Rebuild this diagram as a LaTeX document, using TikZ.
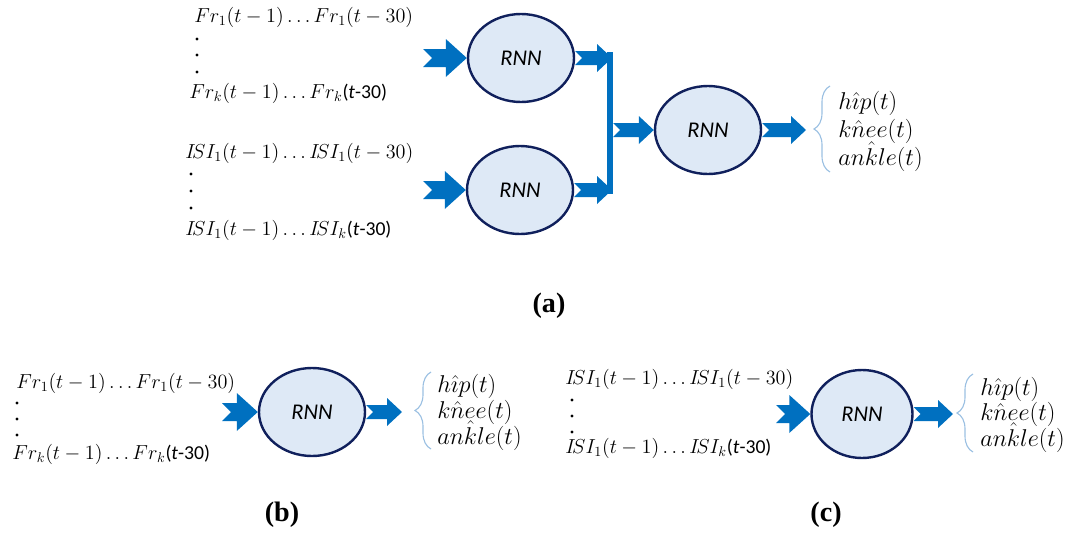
\documentclass[tikz,border=0pt]{standalone}
\usepackage{amsmath}
\usepackage{fontspec}
\newfontfamily\rnnfont{Carlito}
\newfontfamily\capfont{Liberation Serif}
\usetikzlibrary{positioning,calc,shapes.geometric,decorations.pathreplacing}

\definecolor{arrowblue}{RGB}{0,112,192}
\definecolor{cellfill}{RGB}{222,233,246}
\definecolor{cellline}{RGB}{16,32,92}
\definecolor{bracecol}{RGB}{155,192,226}

\newdimen\pix \pix=0.025cm

\tikzset{
	rnn/.style={ellipse, draw=cellline, fill=cellfill, line width=2.4\pix, minimum width=106\pix, minimum height=88\pix, inner sep=0pt, font=\rnnfont\itshape\fontsize{16}{19}\selectfont},
	seq/.style={anchor=west, inner sep=0pt, font=\fontsize{14}{17}\selectfont},
	outlab/.style={anchor=base west, inner sep=0pt, font=\fontsize{16.5}{19}\selectfont},
	vdot/.style={circle, fill=black, inner sep=0pt, minimum size=3.2\pix},
	% notched block arrow: body half height, head half height, head length
	fat arrow/.style n args={3}{fill=arrowblue, to path={
		($(\tikztostart)+(0,#1)$) -- ($(\tikztotarget)+(-#3,#1)$) -- ($(\tikztotarget)+(-#3,#2)$) -- (\tikztotarget)
		-- ($(\tikztotarget)+(-#3,-#2)$) -- ($(\tikztotarget)+(-#3,-#1)$) -- ($(\tikztostart)+(0,-#1)$) -- ($(\tikztostart)+(#1,0)$) -- cycle}},
	inarrow/.style={fat arrow={9}{19}{21}},
	outarrow/.style={fat arrow={7}{14}{15}},
	outbrace/.style={draw=bracecol, line width=0.8pt, decorate, decoration={brace, amplitude=16\pix}},
	caption/.style={font=\capfont\bfseries\fontsize{20}{24}\selectfont},
}

\begin{document}
\begin{tikzpicture}[x=0.025cm, y=-0.025cm]
	\useasboundingbox (0,0) rectangle (1080,533);

	% (a) two input networks feeding a third
	\node[seq] (fr1A) at (194,17) {$Fr_1(t-1)\ldots Fr_1(t-30)$};
	\node[seq] (frkA) at (189,93) {$Fr_k(t-1)\ldots Fr_k${\rnnfont(\textit{t}-30)}};
	\foreach \y [count=\i] in {39,55,72}
		\node[vdot] (dotA\i) at (197,\y) {};
	\node[seq] (isi1A) at (185,153) {$I\!SI_1(t-1)\ldots I\!SI_1(t-30)$};
	\node[seq] (isikA) at (185,230) {$I\!SI_1(t-1)\ldots I\!SI_k${\rnnfont(\textit{t}-30)}};
	\foreach \y [count=\i] in {174,191,208}
		\node[vdot] (dotB\i) at (191,\y) {};

	\node[rnn] (rnnA) at (521,58) {RNN};
	\node[rnn] (rnnB) at (520,190) {RNN};
	\node[rnn] (rnnC) at (708,130) {RNN};

	\coordinate (inA) at (423,58);
	\coordinate (inB) at (423,190);
	\coordinate (jA) at (612,58);
	\coordinate (jB) at (612,190);
	\coordinate (jM) at (613,130);
	\coordinate (outC) at (806,130);

	\path[inarrow] (inA) to (rnnA.west);
	\path[inarrow] (inB) to (rnnB.west);
	\path[outarrow] (rnnA.east) to (jA);
	\path[outarrow] (rnnB.east) to (jB);
	\draw[arrowblue, line width=6\pix] ($(jA)+(-2,-6)$) -- ($(jB)+(-2,4)$);
	\path[outarrow] (jM) to (rnnC.west);
	\path[outarrow] (rnnC.east) to (outC);

	\coordinate (brA1) at (830,172);
	\coordinate (brA2) at (830,86);
	\draw[outbrace] (brA1) -- (brA2);
	\node[outlab] (hipA) at (838,109) {$h\hat{\imath}p(t)$};
	\node[outlab] (kneeA) at (838,137) {$k\hat{n}ee(t)$};
	\node[outlab] (ankleA) at (838,165) {$an\hat{k}le(t)$};

	\node[caption] (capA) at (549,306) {(a)};

	% (b) Fr inputs only
	\node[seq] (fr1B) at (16,383) {$Fr_1(t-1)\ldots Fr_1(t-30)$};
	\node[seq] (frkB) at (12,454) {$Fr_k(t-1)\ldots Fr_k${\rnnfont(\textit{t}-30)}};
	\foreach \y [count=\i] in {403,419,435}
		\node[vdot] (dotC\i) at (17,\y) {};

	\node[rnn] (rnnD) at (312,412) {RNN};
	\coordinate (inD) at (222,412);
	\coordinate (outD) at (402,412);
	\path[inarrow] (inD) to (rnnD.west);
	\path[outarrow] (rnnD.east) to (outD);

	\coordinate (brB1) at (431,449);
	\coordinate (brB2) at (431,372);
	\draw[outbrace] (brB1) -- (brB2);
	\node[outlab] (hipB) at (437,392) {$h\hat{\imath}p(t)$};
	\node[outlab] (kneeB) at (437,418) {$k\hat{n}ee(t)$};
	\node[outlab] (ankleB) at (437,444) {$an\hat{k}le(t)$};

	\node[caption] (capB) at (282,515) {(b)};

	% (c) ISI inputs only
	\node[seq] (isi1C) at (565,379) {$I\!SI_1(t-1)\ldots I\!SI_1(t-30)$};
	\node[seq] (isikC) at (565,448) {$I\!SI_1(t-1)\ldots I\!SI_k${\rnnfont(\textit{t}-30)}};
	\foreach \y [count=\i] in {400,416,432}
		\node[vdot] (dotD\i) at (572,\y) {};

	\node[rnn, minimum width=101\pix] (rnnE) at (862,414) {RNN};
	\coordinate (inE) at (776,414);
	\coordinate (outE) at (953,414);
	\path[inarrow] (inE) to (rnnE.west);
	\path[outarrow] (rnnE.east) to (outE);

	\coordinate (brC1) at (973,452);
	\coordinate (brC2) at (973,374);
	\draw[outbrace] (brC1) -- (brC2);
	\node[outlab] (hipC) at (980,395) {$h\hat{\imath}p(t)$};
	\node[outlab] (kneeC) at (980,420) {$k\hat{n}ee(t)$};
	\node[outlab] (ankleC) at (980,446) {$an\hat{k}le(t)$};

	\node[caption] (capC) at (826,515) {(c)};
\end{tikzpicture}
\end{document}
